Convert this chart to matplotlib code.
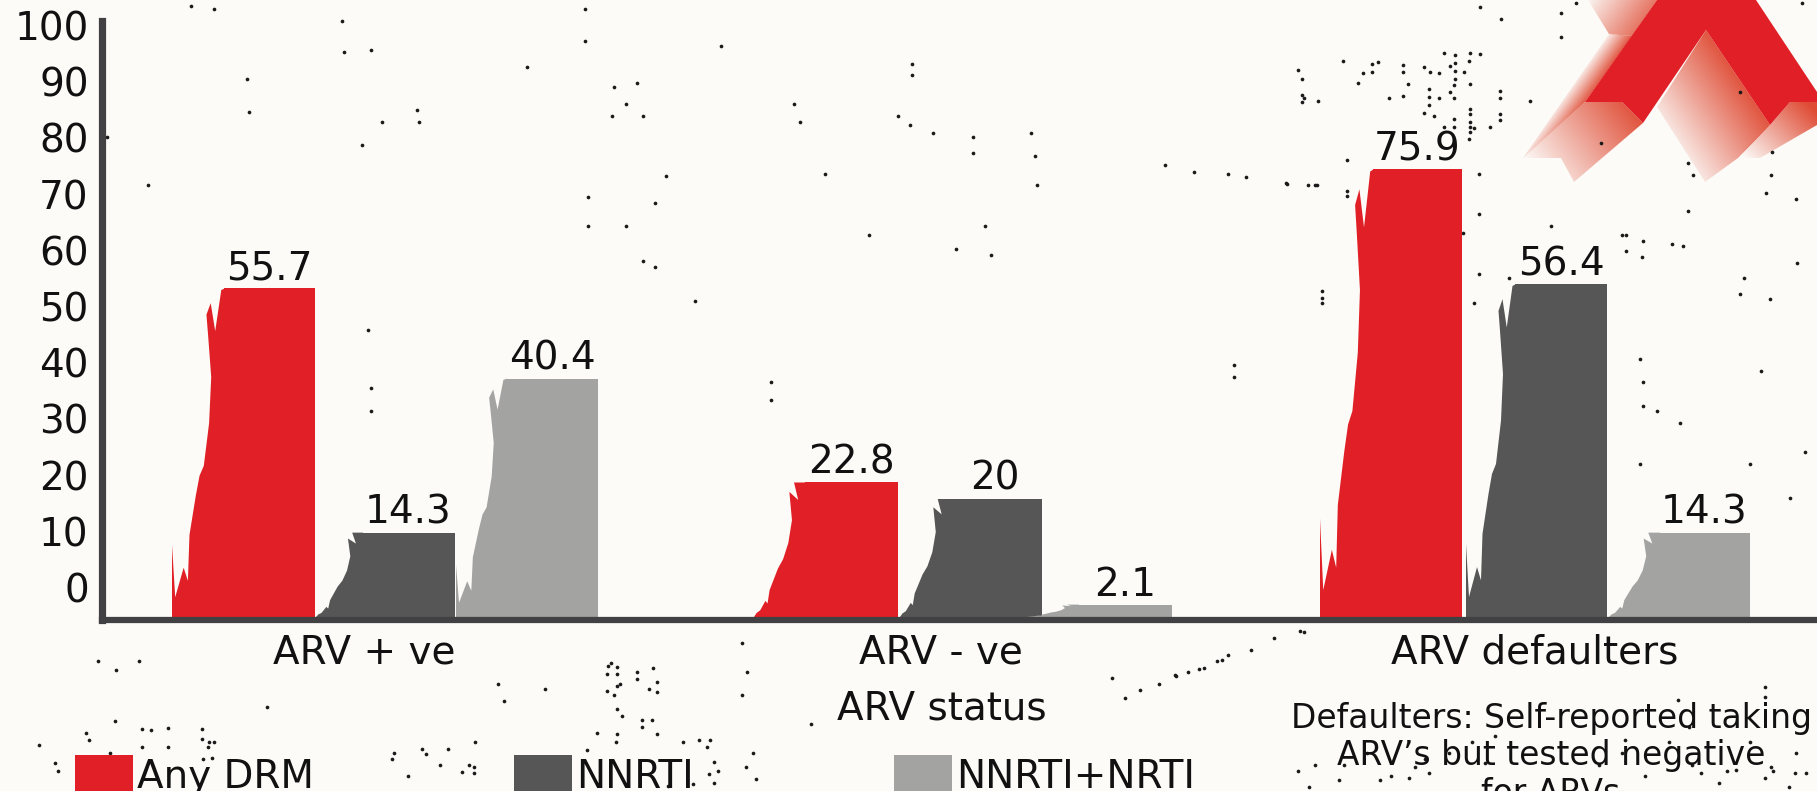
#!/usr/bin/env python3
import numpy as np
import matplotlib
matplotlib.use("Agg")
import matplotlib.pyplot as plt
from matplotlib.patches import Polygon

W, H = 1817, 791

# data
categories = ["ARV + ve", "ARV - ve", "ARV defaulters"]
any_drm = [55.7, 22.8, 75.9]
nnrti = [14.3, 20, 56.4]
nnrti_nrti = [40.4, 2.1, 14.3]
y_ticks = [0, 10, 20, 30, 40, 50, 60, 70, 80, 90, 100]

# layout, in pixels of the full picture
bar_left = [[224, 362, 506], [805, 948, 1078], [1373, 1515, 1659]]
bar_right = [[315, 455, 598], [898, 1042, 1172], [1462, 1607, 1750]]
rag_left = [[171, 315, 455], [753, 899, 1026], [1319, 1465, 1608]]
cat_x = [364, 941, 1535]

RED = "#E01F26"
FADE = "#DF4A33"
DARK = "#555655"
GREY = "#A3A3A2"
AXIS = "#414042"
BG = "#FCFBF8"
INK = "#111111"
FS = 28

# torn left edge of the bars: (height fraction, share of the overhang)
tall_f = [0, .22, .06, .15, .11, .25, .37, .43, .46, .59, .73, .86, .92, .955, .87, .995, 1]
tall_e = [1, 1.0, .94, .78, .70, .67, .55, .48, .40, .30, .26, .32, .35, .27, .185, .07, 0]
short_f = [0, .03, .05, .12, .10, .20, .28, .36, .43, .55, .72, .93, .87, 1, 1]
short_e = [1, .95, .88, .78, .74, .70, .62, .54, .44, .34, .27, .32, .15, .23, 0]

# specks (full size)
speck_x = [1480, 1501, 1561, 1561, 1576, 1444, 1455, 1470, 1480, 1469, 1455, 1450, 1424, 1430, 1439, 1455, 1464,
           1455, 1470, 1454, 1429, 1450, 1429, 1439, 1454, 1429, 1424, 1434, 1470, 1470, 1470, 1454, 1444, 1454,
           1470, 1474, 1490, 1470, 1469, 1500, 1500, 1500, 1500, 1530, 1372, 1378, 1343, 1363, 1372, 1403, 1403,
           1358, 1408, 1302, 1302, 1302, 1318, 1389, 1403, 1308, 1317, 1287, 1347, 1347, 1347, 1479, 1479, 1551,
           1463, 1622, 1626, 1643, 1626, 1642, 1672, 1683, 1509, 1479, 1474, 1322, 1322, 1322, 1601, 1740, 1772,
           1771, 1766, 1796, 1688, 1688, 1693, 1797, 1740, 1770, 1802]
speck_y = [7, 19, 13, 37, 3, 53, 55, 53, 54, 61, 63, 66, 67, 72, 73, 71, 72, 79, 84, 85, 89, 92, 97, 98, 98, 105,
           113, 116, 109, 114, 122, 119, 127, 127, 127, 128, 127, 132, 139, 91, 98, 114, 120, 101, 64, 62, 61, 73,
           72, 65, 72, 83, 84, 79, 95, 102, 101, 98, 96, 185, 185, 184, 191, 196, 160, 174, 214, 226, 233, 235,
           235, 241, 251, 257, 244, 246, 278, 274, 303, 298, 303, 291, 143, 92, 152, 175, 193, 199, 211, 163, 175,
           263, 294, 299, 3]
# same, from the shrunk view
small_x = [165, 185, 295, 297, 320, 330, 360, 362, 312, 128, 213, 92, 215, 455, 505, 505, 530, 550, 528, 555, 540,
           575, 507, 507, 565, 540, 555, 565, 622, 685, 690, 712, 787, 787, 775, 785, 805, 840, 840, 890, 893, 895,
           1005, 1030, 1060, 1075, 1110, 1135, 850, 825, 855, 750, 665, 665, 1065, 1065, 320, 320, 318, 600, 1120,
           1125, 1415, 1418, 1418, 1430, 1450, 1415, 1505, 1520, 1510, 1545, 1558, 85, 100, 120, 430, 435, 470, 525,
           535, 550, 530, 560, 640, 645, 640, 130, 180, 175, 230, 50, 95, 340, 380, 405, 410, 700, 610, 620, 650,
           1015, 1025, 1035, 1050, 1000, 1060, 1125, 960, 1120, 1135, 1160, 1180, 1200, 1230, 1250, 1270, 1290, 1380,
           1400, 1420, 1440, 1460, 1490, 1510, 1530, 1550]
small_y = [5, 8, 18, 45, 43, 105, 95, 105, 125, 160, 68, 118, 97, 58, 8, 35, 75, 72, 100, 100, 90, 152, 170, 195,
           175, 195, 225, 230, 40, 90, 105, 150, 55, 65, 100, 108, 115, 118, 132, 115, 135, 160, 142, 148, 150, 153,
           158, 160, 195, 215, 220, 203, 330, 345, 315, 325, 335, 355, 285, 260, 60, 85, 310, 330, 350, 355, 365, 400,
           240, 320, 400, 430, 390, 570, 578, 570, 590, 605, 595, 575, 590, 580, 600, 595, 555, 580, 600, 630, 640,
           655, 610, 665, 650, 650, 660, 660, 640, 625, 645, 665, 650, 583, 580, 577, 570, 590, 565, 545, 585, 665,
           660, 660, 650, 670, 655, 650, 640, 635, 660, 650, 670, 640, 660, 665, 640, 665, 650]
# bottom left and bottom right, from the crops
low_x = [611, 617, 607, 617, 637, 657, 607, 617, 657, 653, 617, 622, 642, 652, 642, 657, 597, 617, 616, 587, 699,
         710, 683, 714, 709, 714, 746, 756, 668, 693, 86, 89, 142, 168, 202, 202, 214, 208, 142, 168, 212, 115, 39,
         55, 392, 422, 448, 426, 474, 474, 408, 462, 1415, 1429, 1409, 1380, 1736, 1765, 1765, 1795, 1771, 1806,
         1719, 1701, 1765, 1789, 1309, 1339, 1485, 1625, 1678, 1689, 1561, 1175, 1204, 1222, 1251, 1274, 1300, 1140,
         1125]
low_y = [663, 667, 674, 674, 679, 682, 691, 686, 692, 668, 709, 716, 720, 720, 727, 734, 733, 734, 742, 750, 740,
         740, 742, 762, 774, 783, 767, 779, 786, 784, 733, 740, 729, 728, 729, 739, 742, 747, 747, 747, 758, 721,
         745, 763, 759, 749, 749, 754, 767, 773, 776, 772, 767, 773, 778, 780, 770, 697, 687, 773, 767, 773, 783,
         773, 778, 787, 787, 780, 763, 740, 700, 727, 610, 675, 668, 660, 650, 638, 631, 690, 698]

plt.rcParams["font.family"] = "DejaVu Sans"
fig = plt.figure(figsize=(W / 100, H / 100), dpi=100, facecolor=BG)

# backdrop: ribbon and specks
back = fig.add_axes([0, 0, 1, 1], zorder=0)
back.set_xlim(0, W)
back.set_ylim(H, 0)
back.axis("off")


def fade(pts, start, direction, length, top=1.0, color=FADE):
    # polygon fading out along direction
    pts = np.array(pts, float)
    x0, y0 = pts.min(axis=0)
    x1, y1 = pts.max(axis=0)
    xx, yy = np.meshgrid(np.arange(x0, x1 + 1), np.arange(y0, y1 + 1))
    d = np.array(direction, float)
    d = d / np.linalg.norm(d)
    t = ((xx - start[0]) * d[0] + (yy - start[1]) * d[1]) / length
    rgba = np.zeros(xx.shape + (4,))
    rgba[..., :3] = matplotlib.colors.to_rgb(color)
    rgba[..., 3] = top * np.clip(1 - t, 0, 1)
    im = back.imshow(rgba, extent=(x0, x1, y1, y0), aspect="auto", interpolation="bilinear", zorder=1)
    im.set_clip_path(Polygon(pts, transform=back.transData))


fade([(1585, 102), (1622, 102), (1643, 123), (1574, 182), (1561, 158), (1523, 158)], (1640, 108), (-0.8, 0.6), 125)
fade([(1523, 158), (1609, 34), (1632, 36), (1585, 102)], (1585, 102), (-0.82, -0.58), 22, 0.9)
fade([(1588, 0), (1657, 0), (1632, 36), (1609, 34)], (1585, 102), (-0.82, -0.58), 60, 0.75)
fade([(1706, 30), (1770, 125), (1738, 158), (1705, 182), (1657, 107)], (1740, 78), (-0.83, 0.56), 100, 0.95)
fade([(1790, 102), (1817, 102), (1817, 125), (1760, 158), (1735, 158), (1770, 125)], (1805, 100), (-0.7, 0.7), 85)
back.add_patch(Polygon([(1657, 0), (1756, 0), (1817, 92), (1817, 102), (1790, 102), (1770, 125), (1706, 30),
                        (1643, 123), (1622, 102), (1585, 102)], color=RED, lw=0, zorder=2))

scale = W / 1568
back.scatter(speck_x + [v * scale for v in small_x] + low_x, speck_y + [v * scale for v in small_y] + low_y,
             s=7, color="#1a1a1a", lw=0, zorder=3)
back.set_xlim(0, W)
back.set_ylim(H, 0)

# main axes: x in picture pixels, bars in values
base_px, top_px = 620, 21
px_per_unit = 5.9
ax = fig.add_axes([102 / W, 1 - base_px / H, 1 - 102 / W, (base_px - top_px) / H], zorder=2)
ax.patch.set_alpha(0)
ax.set_xlim(102, W)
ax.set_ylim(-3 / px_per_unit, (617 - top_px) / px_per_unit)

series = [(any_drm, RED, "Any DRM"), (nnrti, DARK, "NNRTI"), (nnrti_nrti, GREY, "NNRTI+NRTI")]
handles = []
for s, (vals, color, name) in enumerate(series):
    lefts = [bar_left[g][s] for g in range(3)]
    widths = [bar_right[g][s] - bar_left[g][s] for g in range(3)]
    bars = ax.bar(lefts, vals, widths, align="edge", color=color, label=name, zorder=2)
    handles.append(bars)
    for g, v in enumerate(vals):
        prof_f, prof_e = (tall_f, tall_e) if v > 25 else (short_f, short_e)
        over = lefts[g] - rag_left[g][s]
        xs = [lefts[g] + 1 - e * over for e in prof_e] + [lefts[g] + 1]
        ys = [f * v for f in prof_f] + [0]
        ax.fill(xs, ys, color=color, lw=0, zorder=2)
        ax.annotate(str(v), (lefts[g] + widths[g] / 2, v), xytext=(0, 6.5), textcoords="offset points",
                    ha="center", va="baseline", fontsize=FS, color=INK, zorder=4)

for side in ["top", "right"]:
    ax.spines[side].set_visible(False)
ax.spines["left"].set_linewidth(5.2)
ax.spines["left"].set_color(AXIS)
ax.spines["bottom"].set_linewidth(4.5)
ax.spines["bottom"].set_color(AXIS)
ax.set_yticks([])
ax.set_xticks(cat_x)
ax.set_xticklabels(categories, fontsize=FS, color=INK)
ax.tick_params(axis="x", length=0, pad=9.5)
ax.set_xlabel("ARV status", fontsize=FS, color=INK)
ax.xaxis.set_label_coords(840 / (W - 102), -0.116)

# tick labels sit on their own scale, higher than the bars'
ax2 = ax.twinx()
ax2.set_zorder(3)
ax2.patch.set_alpha(0)
ax2.set_ylim((587.5 - base_px) / 5.62, (587.5 - top_px) / 5.62)
ax2.yaxis.tick_left()
ax2.set_yticks(y_ticks)
ax2.tick_params(axis="y", length=0, pad=9.5, labelsize=FS, labelcolor=INK)
for spine in ax2.spines.values():
    spine.set_visible(False)

fig.legend(handles=handles, loc="upper left", bbox_to_anchor=(75 / W, 1 - 755 / H), ncols=3, frameon=False,
           fontsize=FS, borderpad=0, borderaxespad=0, handlelength=1.49, handleheight=1.2, handletextpad=0.1,
           columnspacing=5.15, labelcolor=INK)

fig.text(1551 / W, 1 - 702 / H, "Defaulters: Self-reported taking\nARV\u2019s but tested negative\nfor ARVs",
         ha="center", va="top", fontsize=23.7, color=INK, linespacing=1.17)

fig.savefig("out.png", dpi=100, facecolor=BG)
